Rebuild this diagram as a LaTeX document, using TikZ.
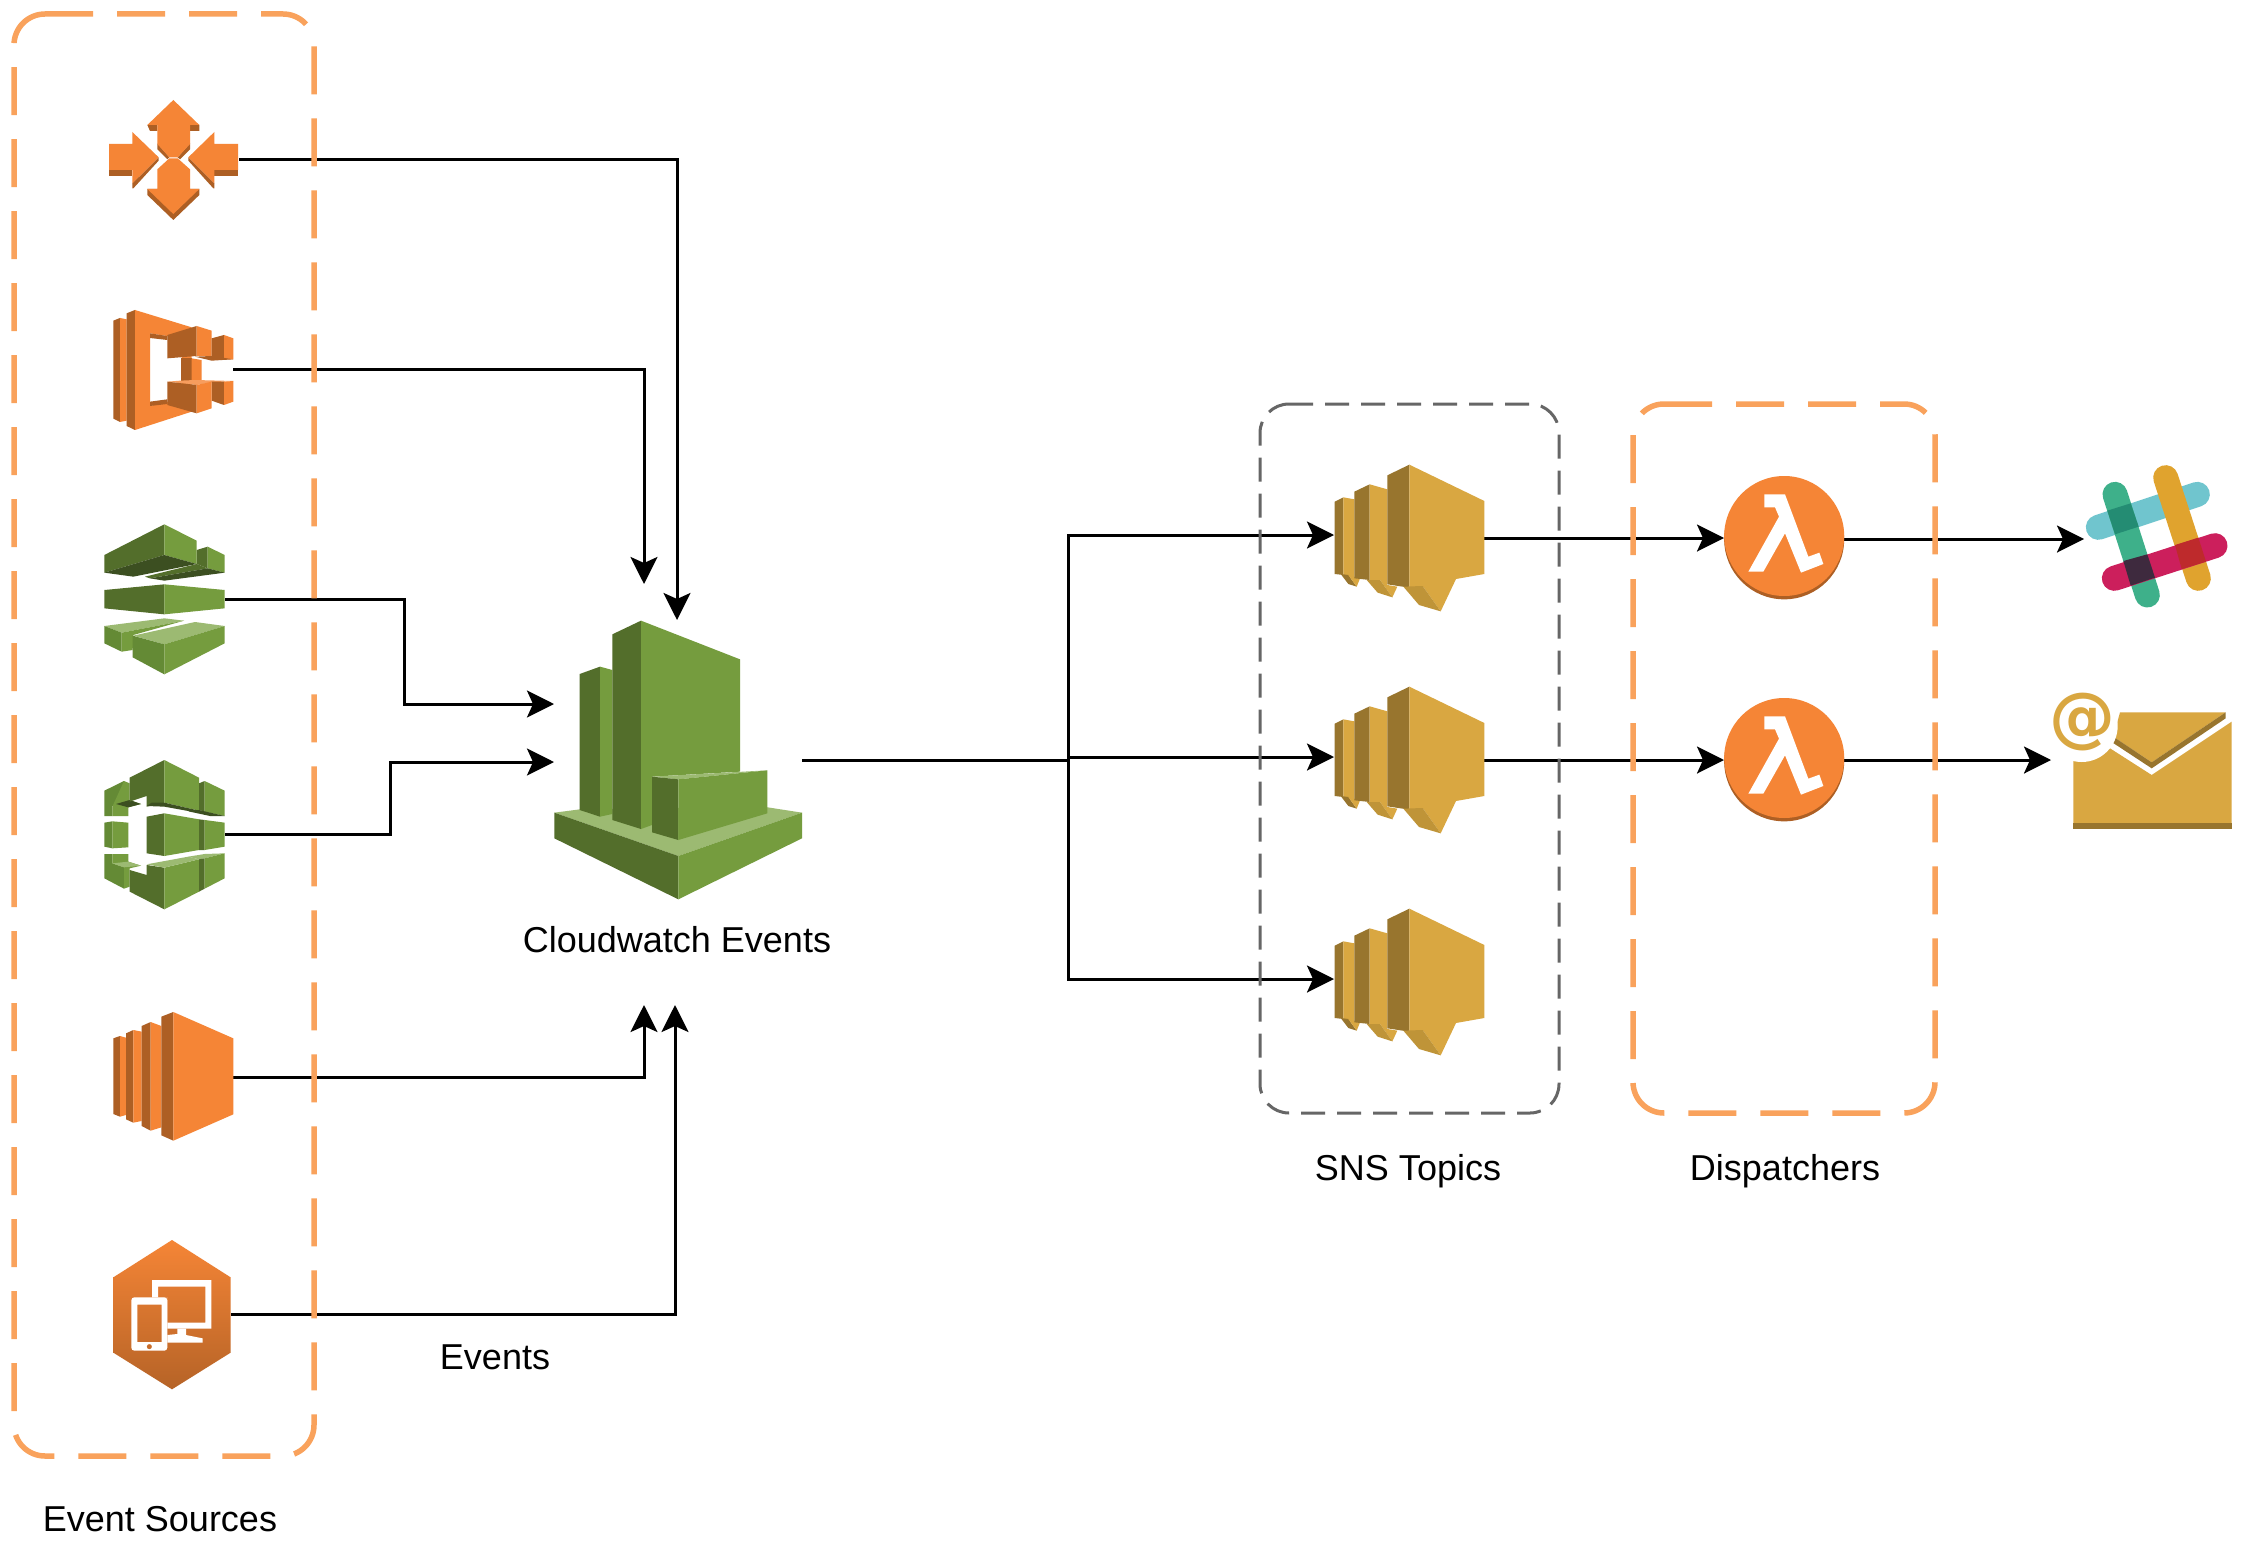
\documentclass[tikz,border=0pt]{standalone}
\usepackage{fontspec}
\setmainfont{Liberation Sans}
\newfontfamily\atfont{DejaVu Sans}
\usetikzlibrary{arrows.meta}
\definecolor{og}{HTML}{F58536}
\definecolor{ogd}{HTML}{AD5F24}
\definecolor{gr}{HTML}{759C3E}
\definecolor{grd}{HTML}{536E2B}
\definecolor{grm}{HTML}{648A35}
\definecolor{grk}{HTML}{3C4F21}
\definecolor{grl}{HTML}{9CBA72}
\definecolor{gd}{HTML}{D9A741}
\definecolor{gdd}{HTML}{98752E}
\definecolor{gdm}{HTML}{BF9438}
\definecolor{boxog}{HTML}{F9A25C}
\definecolor{boxgy}{HTML}{666666}
\definecolor{slackteal}{HTML}{70C5CE}
\definecolor{slackgreen}{HTML}{3EB08A}
\definecolor{slackyellow}{HTML}{E0A32E}
\definecolor{slackred}{HTML}{CC1F5C}
\definecolor{slackx}{HTML}{248C73}
\definecolor{slacky}{HTML}{BE2A2C}
\definecolor{slackz}{HTML}{3E2A3E}
\tikzset{
  conn/.style={draw=black,line width=3pt,-{Stealth[length=27pt,width=27pt,inset=6pt]}},
  ogbox/.style={draw=boxog,line width=5.5pt,dash pattern=on 48pt off 24pt,rounded corners=31pt},
  gybox/.style={draw=boxgy,line width=3pt,dash pattern=on 24pt off 12pt,rounded corners=29pt},
  lbl/.style={font=\fontsize{36}{40}\selectfont,text=black,inner sep=0pt},
  iconbox/.style={inner sep=0pt,outer sep=0pt,minimum width=0pt,minimum height=0pt},
  zs/.style={scale=0.33333}
}
\newcommand{\pg}[2]{\fill[#1] #2 -- cycle;}
\newcommand{\snsicon}{%
  \pg{gdd}{(74,155)--(100,142)--(100,375)--(74,372)}
  \pg{gd}{(100,142)--(133,148)--(133,385)--(100,375)}
  \pg{gdd}{(92,372)--(115,375)--(140,410)--(115,402)}
  \pg{gd}{(115,375)--(150,385)--(140,410)}
  \pg{gdd}{(133,125)--(179,103)--(179,390)--(133,385)}
  \pg{gd}{(179,103)--(232,118)--(232,405)--(262,410)--(247,442)--(210,390)--(179,390)}
  \pg{gdm}{(170,390)--(210,390)--(247,442)--(203,428)}
  \pg{gdd}{(232,76)--(298,44)--(298,413)--(232,403)}
  \pg{gd}{(298,44)--(523,153)--(523,372)--(438,387)--(392,484)--(338,408)--(298,413)}
  \pg{gdm}{(280,410)--(338,408)--(392,484)--(327,465)}
}
\newcommand{\lambdaicon}{%
  \fill[ogd] (252.5,268) circle (180);
  \fill[og] (252.5,258) circle (180);
  \pg{white}{(193,133)--(255,133)--(325,320)--(358,308)--(370,342)--(303,368)--(255,250)--(190,365)--(145,365)--(237,200)--(225,172)--(193,172)}
}
\begin{document}
\begin{tikzpicture}[x=1pt,y=-1pt]
\useasboundingbox (0,0) rectangle (2243,1562);
\fill[white] (0,0) rectangle (2243,1562);

% anchor nodes of the icons
\node[iconbox] (srcA) at (239,160) {};
\node[iconbox] (srcB) at (233,369) {};
\node[iconbox] (srcC) at (225,599) {};
\node[iconbox] (srcD) at (225,834) {};
\node[iconbox] (srcE) at (233,1077) {};
\node[iconbox] (srcF) at (231,1314) {};
\node[iconbox] (cwOut) at (802,760) {};
\coordinate (cwTopA) at (644,584);
\coordinate (cwTopB) at (677,620);
\coordinate (cwLeftA) at (554,704);
\coordinate (cwLeftB) at (554,762);
\coordinate (cwBotA) at (644,1005);
\coordinate (cwBotB) at (675,1005);
\coordinate (hub) at (1068,760);
\node[iconbox] (snsAin) at (1334,535) {};
\node[iconbox] (snsBin) at (1334,757) {};
\node[iconbox] (snsCin) at (1334,979) {};
\node[iconbox] (snsAout) at (1484,538) {};
\node[iconbox] (snsBout) at (1484,760) {};
\node[iconbox] (lamAin) at (1724,538) {};
\node[iconbox] (lamBin) at (1724,760) {};
\node[iconbox] (lamAout) at (1844,539) {};
\node[iconbox] (lamBout) at (1844,760) {};
\node[iconbox] (slack) at (2084,539) {};
\node[iconbox] (mail) at (2051,760) {};

% connectors
\draw[conn] (srcA) -| (cwTopB);
\draw[conn] (srcB) -| (cwTopA);
\draw[conn] (srcC) -- (404,599) |- (cwLeftA);
\draw[conn] (srcD) -- (390,834) |- (cwLeftB);
\draw[conn] (srcE) -| (cwBotA);
\draw[conn] (srcF) -| (cwBotB);
\draw[line width=3pt] (cwOut) -- (hub);
\draw[conn] (hub) |- (snsAin);
\draw[conn] (hub) -- (1068,757) -- (snsBin);
\draw[conn] (hub) |- (snsCin);
\draw[conn] (snsAout) -- (lamAin);
\draw[conn] (snsBout) -- (lamBin);
\draw[conn] (lamAout) -- (slack);
\draw[conn] (lamBout) -- (mail);

% group frames
\draw[ogbox] (45,14) -- (314,14) -- (314,1456) -- (14,1456) -- (14,14) -- (45,14);
\draw[gybox] (1289,404) -- (1559,404) -- (1559,1113) -- (1260,1113) -- (1260,404) -- (1289,404);
\draw[ogbox] (1664,404) -- (1935,404) -- (1935,1113) -- (1633,1113) -- (1633,404) -- (1664,404);

% auto scaling icon
\begin{scope}[shift={(80,80)},zs]
  \pg{ogd}{(202,135)--(358,135)--(358,153)--(330,153)--(330,135)--(232,135)--(232,153)--(210,153)}
  \pg{ogd}{(232,190)--(268,232)--(262,238)--(232,208)}
  \pg{ogd}{(330,190)--(293,232)--(300,238)--(330,208)}
  \pg{og}{(280,60)--(358,135)--(330,135)--(330,192)--(293,232)--(268,232)--(232,192)--(232,135)--(202,135)}
  \pg{ogd}{(202,327)--(358,327)--(358,345)--(280,420)--(202,345)}
  \pg{og}{(280,235)--(293,235)--(330,268)--(330,327)--(358,327)--(280,402)--(202,327)--(232,327)--(232,268)--(268,235)}
  \pg{ogd}{(87,270)--(157,270)--(157,288)--(87,288)}
  \pg{ogd}{(157,310)--(236,232)--(236,242)--(160,325)--(157,325)}
  \pg{og}{(87,192)--(157,192)--(157,156)--(236,232)--(157,310)--(157,270)--(87,270)}
  \pg{ogd}{(474,270)--(403,270)--(403,288)--(474,288)}
  \pg{ogd}{(403,310)--(325,232)--(325,242)--(400,325)--(403,325)}
  \pg{og}{(474,192)--(403,192)--(403,156)--(325,232)--(403,310)--(403,270)--(474,270)}
\end{scope}

% second icon
\begin{scope}[shift={(80,80)},zs]
  \pg{ogd}{(100,722)--(120,714)--(120,1026)--(100,1016)}
  \pg{og}{(120,714)--(140,718)--(140,1022)--(120,1026)}
  \pg{ogd}{(140,700)--(165,690)--(165,1050)--(140,1038)}
  \fill[og,even odd rule] (165,690) -- (335,742) -- (335,995) -- (165,1050) -- cycle
     (210,760) -- (305,775) -- (305,955) -- (210,978) -- cycle;
  \pg{ogd}{(210,760)--(262,768)--(262,780)--(210,774)}
  \pg{ogd}{(210,965)--(262,958)--(262,972)--(210,978)}
  \pg{ogd}{(303,835)--(335,835)--(335,903)--(303,903)}
  \pg{og}{(335,835)--(365,840)--(365,900)--(335,905)}
  \pg{ogd}{(262,765)--(350,738)--(350,828)--(262,835)}
  \pg{og}{(350,738)--(395,752)--(395,828)--(350,828)}
  \pg{ogd}{(395,775)--(432,765)--(432,838)--(395,838)}
  \pg{og}{(432,765)--(460,775)--(460,838)--(432,838)}
  \pg{ogd}{(345,830)--(395,828)--(460,838)--(395,842)}
  \pg{og!80!white}{(345,900)--(460,903)--(395,907)--(350,915)--(262,905)--(300,902)}
  \pg{ogd}{(395,905)--(432,905)--(432,975)--(395,962)}
  \pg{og}{(432,905)--(460,903)--(460,965)--(432,975)}
  \pg{ogd}{(262,905)--(350,915)--(350,1000)--(262,975)}
  \pg{og}{(350,915)--(395,905)--(395,985)--(350,1000)}
\end{scope}

% third icon
\begin{scope}[shift={(80,500)},zs]
  \pg{grd}{(350,150)--(383,140)--(383,205)--(350,192)}
  \pg{gr}{(383,140)--(434,165)--(434,218)--(383,205)}
  \pg{grd}{(195,230)--(350,192)--(383,205)--(210,235)}
  \pg{grk}{(210,235)--(383,205)--(434,218)--(253,242)}
  \pg{grd}{(73,165)--(253,73)--(253,165)--(73,218)}
  \pg{gr}{(253,73)--(350,122)--(350,192)--(253,165)}
  \pg{grk}{(73,218)--(253,165)--(350,192)--(160,230)}
  \pg{grd}{(73,270)--(253,253)--(253,343)--(73,325)}
  \pg{gr}{(253,253)--(434,270)--(434,325)--(253,343)}
  \pg{grl}{(73,378)--(253,355)--(312,362)--(125,398)}
  \pg{grm}{(73,378)--(125,398)--(125,455)--(73,430)}
  \pg{gr}{(125,398)--(312,362)--(160,405)--(158,450)--(125,455)}
  \pg{grl}{(160,407)--(345,366)--(434,378)--(253,433)}
  \pg{grm}{(158,407)--(253,433)--(253,523)--(158,472)}
  \pg{gr}{(253,433)--(434,378)--(434,430)--(253,523)}
\end{scope}

% fourth icon
\begin{scope}[shift={(80,500)},zs]
  \pg{grm}{(73,872)--(132,843)--(132,905)--(97,918)--(97,948)--(73,948)}
  \pg{gr}{(132,843)--(149,850)--(149,900)--(183,912)--(145,922)--(145,948)--(97,948)--(97,920)}
  \pg{grk}{(108,912)--(149,900)--(183,912)--(145,922)}
  \pg{grd}{(149,833)--(253,780)--(253,908)--(200,920)--(200,888)--(149,905)}
  \pg{gr}{(253,780)--(357,833)--(357,932)--(253,908)}
  \pg{grk}{(200,918)--(215,908)--(253,908)--(357,932)--(330,934)--(253,920)}
  \pg{grd}{(357,850)--(374,843)--(374,935)--(357,930)}
  \pg{gr}{(374,843)--(434,872)--(434,948)--(374,935)}
  \pg{grk}{(325,934)--(357,930)--(434,948)--(390,948)}
  \pg{grm}{(73,968)--(97,964)--(97,1045)--(73,1040)}
  \pg{gr}{(97,964)--(145,968)--(145,1042)--(97,1045)}
  \pg{grd}{(200,950)--(253,940)--(253,1068)--(200,1060)}
  \pg{gr}{(253,940)--(357,958)--(357,1050)--(253,1068)}
  \pg{grd}{(357,958)--(374,960)--(374,1050)--(357,1050)}
  \pg{gr}{(374,960)--(434,968)--(434,1040)--(374,1050)}
  \pg{grm}{(73,1062)--(97,1062)--(97,1090)--(132,1102)--(132,1166)--(73,1135)}
  \pg{gr}{(97,1062)--(145,1062)--(145,1085)--(183,1097)--(149,1105)--(149,1160)--(132,1166)--(132,1102)--(97,1090)}
  \pg{grl}{(97,1090)--(145,1085)--(183,1097)--(132,1102)}
  \pg{grd}{(149,1110)--(200,1125)--(200,1095)--(253,1103)--(253,1228)--(149,1175)}
  \pg{gr}{(253,1103)--(357,1078)--(357,1175)--(253,1228)}
  \pg{grl}{(200,1093)--(325,1070)--(357,1078)--(253,1103)}
  \pg{grl}{(325,1070)--(374,1062)--(434,1060)--(374,1075)--(357,1078)}
  \pg{grd}{(357,1078)--(374,1075)--(374,1166)--(357,1175)}
  \pg{gr}{(374,1075)--(434,1060)--(434,1135)--(374,1166)}
\end{scope}

% server icon
\begin{scope}[shift={(80,990)},zs]
  \pg{ogd}{(100,145)--(120,138)--(120,380)--(100,372)}
  \pg{og}{(120,138)--(138,143)--(138,375)--(120,380)}
  \pg{ogd}{(138,130)--(160,120)--(160,398)--(138,388)}
  \pg{og}{(160,120)--(185,125)--(185,393)--(160,398)}
  \pg{ogd}{(185,108)--(212,96)--(212,422)--(185,408)}
  \pg{og}{(212,96)--(244,108)--(244,412)--(212,422)}
  \pg{ogd}{(244,80)--(280,66)--(280,452)--(244,436)}
  \pg{og}{(280,66)--(460,145)--(460,373)--(280,452)}
\end{scope}

% hexagon icon
\begin{scope}[shift={(80,990)},zs]
  \shade[top color=og,bottom color=ogd!60!og!90!black] (276,750) -- (452,862) -- (452,1088) -- (276,1198) -- (100,1088) -- (100,862) -- cycle;
  \fill[white,even odd rule] (216,870) -- (394,870) -- (394,1016) -- (262,1016) -- (262,922) -- (216,922) -- cycle
     (234,890) -- (376,890) -- (376,998) -- (262,998) -- (262,922) -- (234,922) -- cycle;
  \pg{white}{(292,1016)--(318,1016)--(318,1035)--(368,1045)--(368,1058)--(262,1058)--(262,1035)--(292,1032)}
  \fill[white,even odd rule] [rounded corners=3pt] (154,922) rectangle (262,1082) [sharp corners] (172,944) rectangle (245,1056) (208,1070) circle (8);
\end{scope}

% Cloudwatch icon
\begin{scope}[shift={(530,590)},zs]
  \pg{grl}{(73,668)--(150,658)--(700,650)--(816,668)--(445,798)}
  \pg{grd}{(73,668)--(445,798)--(445,928)--(73,745)}
  \pg{gr}{(445,798)--(816,668)--(816,745)--(445,928)}
  \pg{grd}{(149,252)--(210,230)--(210,680)--(149,660)}
  \pg{gr}{(210,230)--(247,240)--(247,672)--(210,680)}
  \pg{grd}{(247,133)--(333,92)--(333,717)--(247,690)}
  \pg{gr}{(333,92)--(630,208)--(630,545)--(366,560)--(366,705)--(333,717)}
  \pg{grl}{(366,560)--(712,541)--(445,568)}
  \pg{grd}{(366,560)--(445,568)--(445,750)--(366,727)}
  \pg{gr}{(445,568)--(712,541)--(712,670)--(445,750)}
\end{scope}

% SNS icons
\begin{scope}[shift={(1310,450)},zs]\snsicon\end{scope}
\begin{scope}[shift={(1310,672)},zs]\snsicon\end{scope}
\begin{scope}[shift={(1310,894)},zs]\snsicon\end{scope}

% Lambda icons
\begin{scope}[shift={(1700,450)},zs]\lambdaicon\end{scope}
\begin{scope}[shift={(1700,672)},zs]\lambdaicon\end{scope}

% Slack icon
\begin{scope}[shift={(2060,450)},zs,line cap=round,line width=25pt]
  \draw[color=slackteal] (115,232) -- (412,133);
  \draw[color=slackgreen] (165,133) -- (262,435);
  \draw[color=slackyellow] (317,83) -- (415,385);
  \draw[color=slackred] (163,385) -- (465,287);
  \pg{slackx}{(142,182)--(212,160)--(236,230)--(165,253)}
  \pg{slackz}{(190,333)--(262,313)--(285,383)--(212,407)}
  \pg{slacky}{(345,285)--(415,263)--(438,335)--(365,357)}
\end{scope}

% mail icon
\begin{scope}[shift={(2030,670)},zs]
  \pg{gd}{(130,235)--(240,235)--(365,315)--(605,155)--(605,460)--(130,460)}
  \pg{gdd}{(130,460)--(605,460)--(605,477)--(130,477)}
  \pg{gd}{(270,127)--(587,127)--(365,277)--(250,200)}
  \pg{gdd}{(587,127)--(587,145)--(365,295)--(248,218)--(250,200)--(365,277)}
  \fill[white] (155,168) circle (108);
\end{scope}
\node[inner sep=0pt,text=gd,font=\atfont\fontsize{66}{66}\selectfont\bfseries] (at) at (2082,722) {@};

% labels
\node[lbl] (tsrc) at (160,1519) {Event Sources};
\node[lbl] (tev) at (495,1357) {Events};
\node[lbl] (tcw) at (677,940) {Cloudwatch Events};
\node[lbl] (tsns) at (1408,1171) {SNS Topics};
\node[lbl] (tdis) at (1785,1171) {Dispatchers};
\end{tikzpicture}
\end{document}
